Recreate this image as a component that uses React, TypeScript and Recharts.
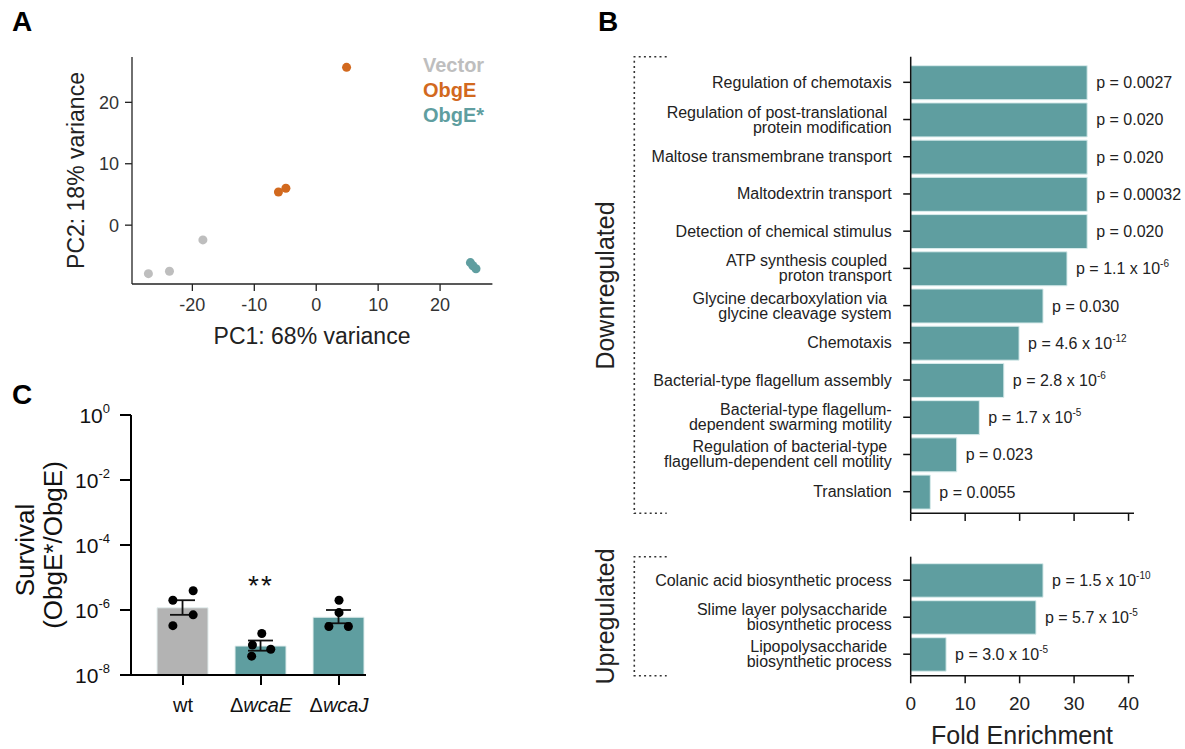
import React from 'react';
import {
  ScatterChart, Scatter, XAxis, YAxis, ZAxis, BarChart, Bar, ComposedChart, ErrorBar, LabelList, Cell,
} from 'recharts';

const FONT = '"Liberation Sans", Arial, Helvetica, sans-serif';
const TEAL = '#5F9EA0';
const ORANGE = '#D2691E';
const GREY = '#BEBEBE';

// ---------- Panel A: PCA ----------
const groupNames = ['Vector', 'ObgE', 'ObgE*'];
const groupColors = [GREY, ORANGE, TEAL];
const vectorPC1 = [-27.1, -23.7, -18.3];
const vectorPC2 = [-7.9, -7.5, -2.4];
const obgePC1 = [4.9, -6.1, -4.9];
const obgePC2 = [25.7, 5.4, 6.0];
const obgeStarPC1 = [24.9, 25.3, 25.8];
const obgeStarPC2 = [-6.1, -6.6, -7.1];
const pcaXTicks = [-20, -10, 0, 10, 20];
const pcaYTicks = [0, 10, 20];

// ---------- Panel B: GO enrichment ----------
const downTerms = [
  'Regulation of chemotaxis',
  'Regulation of post-translational\u00a0\nprotein modification',
  'Maltose transmembrane transport',
  'Maltodextrin transport',
  'Detection of chemical stimulus',
  'ATP synthesis coupled\u00a0\nproton transport',
  'Glycine decarboxylation via\u00a0\nglycine cleavage system',
  'Chemotaxis',
  'Bacterial-type flagellum assembly',
  'Bacterial-type flagellum-\ndependent swarming motility',
  'Regulation of bacterial-type\u00a0\nflagellum-dependent cell motility',
  'Translation',
];
const downFold = [32.4, 32.4, 32.4, 32.4, 32.4, 28.7, 24.3, 19.9, 17.1, 12.6, 8.45, 3.6];
const downP = ['0.0027', '0.020', '0.020', '0.00032', '0.020', '1.1 x 10^-6', '0.030', '4.6 x 10^-12', '2.8 x 10^-6', '1.7 x 10^-5', '0.023', '0.0055'];
const upTerms = [
  'Colanic acid biosynthetic process',
  'Slime layer polysaccharide\u00a0\nbiosynthetic process',
  'Lipopolysaccharide\u00a0\nbiosynthetic process',
];
const upFold = [24.3, 23.0, 6.5];
const upP = ['1.5 x 10^-10', '5.7 x 10^-5', '3.0 x 10^-5'];
const foldTicks = [0, 10, 20, 30, 40];

// ---------- Panel C: survival ----------
const strains = ['wt', '\u0394wcaE', '\u0394wcaJ'];
const strainColors = ['#B3B3B3', TEAL, TEAL];
const survivalMean = [1.17e-6, 7.8e-8, 6.0e-7];
const survivalUpper = [2.0e-6, 1.15e-7, 1.0e-6];
const survivalLower = [7.1e-7, 5.6e-8, 3.9e-7];
const replicateValues = [
  [3.9e-6, 2.0e-6, 7.1e-7, 3.3e-7],
  [1.9e-7, 8.4e-8, 6.2e-8, 3.8e-8],
  [2.0e-6, 8.3e-7, 3.1e-7, 3.1e-7],
];
const replicateJitter = [
  [0.13, -0.13, 0.13, -0.13],
  [0.01, -0.11, 0.125, -0.12],
  [0, 0, -0.13, 0.12],
];
const survivalTicks = [1, 1e-2, 1e-4, 1e-6, 1e-8];

// ---------- derived tables ----------
const pcaSeries = [
  vectorPC1.map((x, i) => ({ x, y: vectorPC2[i] })),
  obgePC1.map((x, i) => ({ x, y: obgePC2[i] })),
  obgeStarPC1.map((x, i) => ({ x, y: obgeStarPC2[i] })),
];
const downData = downTerms.map((term, i) => ({ term, fold: downFold[i], p: downP[i] }));
const upData = upTerms.map((term, i) => ({ term, fold: upFold[i], p: upP[i] }));
const cData = strains.map((s, i) => ({
  x: i + 1,
  mean: survivalMean[i],
  err: [survivalMean[i] - survivalLower[i], survivalUpper[i] - survivalMean[i]],
}));
const cDots = replicateValues.flatMap((vals, i) =>
  vals.map((v, j) => ({ x: i + 1 + replicateJitter[i][j], y: v })),
);
const cDomain: [number, number] = [0.333, 3.346];

// ---------- helpers ----------
const HText = ({ left, top, size, children, style }: any) => (
  <div style={{ position: 'absolute', left, top, fontSize: size, lineHeight: `${size}px`, whiteSpace: 'pre', ...style }}>
    {children}
  </div>
);
const CText = ({ cx, cy, size, children, style }: any) => (
  <div style={{ position: 'absolute', left: cx - 300, top: cy - size / 2, width: 600, textAlign: 'center', fontSize: size, lineHeight: `${size}px`, whiteSpace: 'pre', ...style }}>
    {children}
  </div>
);
const VText = ({ cx, cy, size, children, style }: any) => (
  <div style={{ position: 'absolute', left: cx - 300, top: cy - size / 2, width: 600, height: size, textAlign: 'center', fontSize: size, lineHeight: `${size}px`, whiteSpace: 'pre', transform: 'rotate(-90deg)', transformOrigin: '50% 50%', ...style }}>
    {children}
  </div>
);

const splitP = (s: string) => {
  const i = s.indexOf('^');
  return i < 0 ? ['p = ' + s, ''] : ['p = ' + s.slice(0, i), s.slice(i + 1)];
};

const PLabel = (props: any) => {
  const vb = props.viewBox && props.viewBox.width !== undefined ? props.viewBox : props;
  const x = Number(vb.x) + Number(vb.width) + 9;
  const y = Number(vb.y) + Number(vb.height) / 2;
  const [base, sup] = splitP(String(props.value));
  return (
    <text x={x} y={y} fontSize={16} fill="#222" fontFamily={FONT}>
      <tspan dy={5.5}>{base}</tspan>
      {sup ? <tspan fontSize={10} dy={-7}>{sup}</tspan> : null}
    </text>
  );
};

const TermTick = (props: any) => {
  const { x, y, payload } = props;
  const lines = String(payload.value).split('\n');
  const off = lines.length === 1 ? [0] : [-7.5, 7.5];
  return (
    <g>
      {lines.map((l, i) => (
        <text key={i} x={x} y={y + off[i]} dy={5.5} textAnchor="end" fontSize={16} fill="#222" fontFamily={FONT}>
          {l}
        </text>
      ))}
    </g>
  );
};

const LogTick = (props: any) => {
  const { x, y, payload } = props;
  const exp = Math.round(Math.log10(payload.value));
  return (
    <text x={x} y={y} textAnchor="end" fontSize={21} fill="#111" fontFamily={FONT}>
      <tspan dy={7.5}>10</tspan>
      <tspan fontSize={13} dy={-10}>{String(exp)}</tspan>
    </text>
  );
};

const StrainTick = (props: any) => {
  const { x, y, payload } = props;
  const name = strains[Math.round(payload.value) - 1] ?? '';
  const delta = name.startsWith('\u0394');
  return (
    <text x={x} y={y} dy={14} textAnchor="middle" fontSize={20} fill="#111" fontFamily={FONT}>
      {delta ? (
        <>
          <tspan>{'\u0394'}</tspan>
          <tspan fontStyle="italic">{name.slice(1)}</tspan>
        </>
      ) : (
        name
      )}
    </text>
  );
};

const axA = { stroke: '#222', strokeWidth: 1.3 };
const axB = { stroke: '#111', strokeWidth: 1.5 };
const axC = { stroke: '#000', strokeWidth: 2 };

export default function App() {
  return (
    <div style={{ position: 'absolute', left: 0, top: 0, width: 1185, height: 749, background: '#fff', fontFamily: FONT, color: '#222', overflow: 'hidden' }}>
      {/* Panel letters */}
      <HText left={12} top={8} size={28} style={{ fontWeight: 'bold', color: '#000' }}>A</HText>
      <HText left={598} top={8} size={28} style={{ fontWeight: 'bold', color: '#000' }}>B</HText>
      <HText left={12} top={381} size={28} style={{ fontWeight: 'bold', color: '#000' }}>C</HText>

      {/* Panel A */}
      <div style={{ position: 'absolute', left: 0, top: 0 }}>
        <ScatterChart width={520} height={360} margin={{ top: 57, right: 27.6, bottom: 46, left: 72 }}>
          <XAxis type="number" dataKey="x" domain={[-29.75, 28.45]} allowDataOverflow ticks={pcaXTicks} interval={0}
            axisLine={axA} tickLine={axA} tickSize={7} tickMargin={7.5} height={30}
            tick={{ fontSize: 18, fill: '#333', fontFamily: FONT }} />
          <YAxis type="number" dataKey="y" domain={[-9.58, 27.38]} allowDataOverflow ticks={pcaYTicks} interval={0}
            axisLine={axA} tickLine={axA} tickSize={7} tickMargin={6} width={60}
            tick={{ fontSize: 18, fill: '#333', fontFamily: FONT }} />
          <ZAxis range={[58, 58]} />
          {pcaSeries.map((d, i) => (
            <Scatter key={groupNames[i]} name={groupNames[i]} data={d} fill={groupColors[i]} isAnimationActive={false} />
          ))}
        </ScatterChart>
      </div>
      {groupNames.map((g, i) => (
        <HText key={g} left={423} top={55 + i * 25} size={20} style={{ fontWeight: 'bold', color: groupColors[i] }}>{g}</HText>
      ))}
      <CText cx={312} cy={336} size={23}>PC1: 68% variance</CText>
      <VText cx={76} cy={170.5} size={23}>PC2: 18% variance</VText>

      {/* Panel B top */}
      <div style={{ position: 'absolute', left: 600, top: 0 }}>
        <BarChart layout="vertical" width={585} height={540} data={downData}
          margin={{ top: 56.7, right: 51, bottom: 6.7, left: 10.7 }}>
          <XAxis type="number" dataKey="fold" domain={[0, 41]} allowDataOverflow ticks={foldTicks} interval={0}
            axisLine={axB} tickLine={axB} tickSize={7.6} height={20} tickFormatter={() => ''} />
          <YAxis type="category" dataKey="term" width={300} axisLine={axB} tickLine={axB} tickSize={7.5} tickMargin={11.5}
            interval={0} padding={{ top: 7, bottom: 3 }} tick={<TermTick />} />
          <Bar dataKey="fold" fill={TEAL} stroke="#d9ecec" strokeWidth={1} barSize={34} isAnimationActive={false}>
            <LabelList dataKey="p" content={PLabel} />
          </Bar>
        </BarChart>
      </div>

      {/* Panel B bottom */}
      <div style={{ position: 'absolute', left: 600, top: 540 }}>
        <BarChart layout="vertical" width={585} height={209} data={upData}
          margin={{ top: 16.7, right: 51, bottom: 33.3, left: 10.7 }}>
          <XAxis type="number" dataKey="fold" domain={[0, 41]} allowDataOverflow ticks={foldTicks} interval={0}
            axisLine={axB} tickLine={axB} tickSize={7.6} tickMargin={13} height={40}
            tick={{ fontSize: 19, fill: '#222', fontFamily: FONT }} />
          <YAxis type="category" dataKey="term" width={300} axisLine={axB} tickLine={axB} tickSize={7.5} tickMargin={11.5}
            interval={0} padding={{ top: 5, bottom: 3 }} tick={<TermTick />} />
          <Bar dataKey="fold" fill={TEAL} stroke="#d9ecec" strokeWidth={1} barSize={33.5} isAnimationActive={false}>
            <LabelList dataKey="p" content={PLabel} />
          </Bar>
        </BarChart>
      </div>
      <CText cx={1022} cy={735} size={25}>Fold Enrichment</CText>
      <VText cx={605} cy={285} size={25}>Downregulated</VText>
      <VText cx={605} cy={616} size={25}>Upregulated</VText>
      <svg width={1185} height={749} style={{ position: 'absolute', left: 0, top: 0, pointerEvents: 'none' }}>
        <g stroke="#333" strokeWidth={1.6} strokeDasharray="2 3.2" fill="none">
          <path d="M666.7 56.7 H634.3 V513.3 H666.7" />
          <path d="M666.7 556.7 H634.3 V675.7 H666.7" />
        </g>
      </svg>

      {/* Panel C */}
      <div style={{ position: 'absolute', left: 0, top: 380 }}>
        <ComposedChart width={400} height={369} data={cData} margin={{ top: 35, right: 34, bottom: 34, left: 71 }}>
          <XAxis type="number" dataKey="x" domain={cDomain} allowDataOverflow ticks={[1, 2, 3]} interval={0}
            axisLine={axC} tickLine={axC} tickSize={10} tickMargin={13} height={40} tick={<StrainTick />} />
          <XAxis xAxisId="dots" type="number" dataKey="x" domain={cDomain} allowDataOverflow hide height={40} />
          <YAxis type="number" scale="log" domain={[1e-8, 1]} allowDataOverflow ticks={survivalTicks} interval={0}
            axisLine={axC} tickLine={axC} tickSize={11} tickMargin={10} width={60} tick={<LogTick />} />
          <ZAxis range={[64, 64]} />
          <Bar dataKey="mean" barSize={51} stroke="#e3eeee" strokeWidth={1} isAnimationActive={false}>
            {cData.map((d, i) => (
              <Cell key={i} fill={strainColors[i]} />
            ))}
            <ErrorBar dataKey="err" width={12.5} stroke="#111" strokeWidth={1.8} direction="y" />
          </Bar>
          <Scatter xAxisId="dots" data={cDots} dataKey="y" fill="#000" isAnimationActive={false} />
        </ComposedChart>
      </div>
      <CText cx={261} cy={586} size={28} style={{ letterSpacing: 2, color: '#111' }}>**</CText>
      <VText cx={25} cy={550} size={26} style={{ color: '#111' }}>Survival</VText>
      <VText cx={53} cy={545} size={26} style={{ color: '#111' }}>(ObgE*/ObgE)</VText>
    </div>
  );
}
